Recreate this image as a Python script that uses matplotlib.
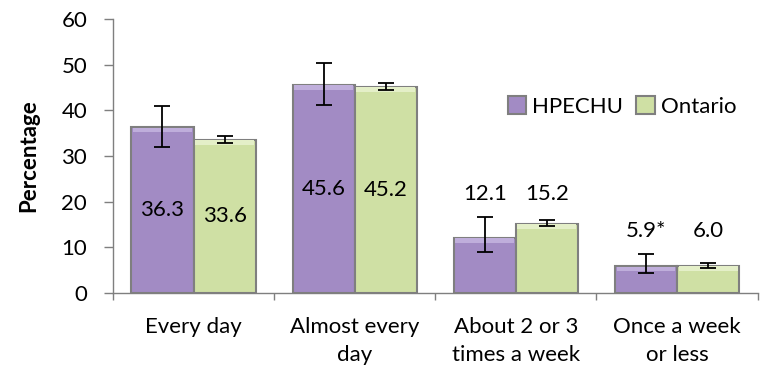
import matplotlib
matplotlib.use("Agg")
import matplotlib.pyplot as plt
import numpy as np

categories = ["Every day", "Almost every\nday", "About 2 or 3\ntimes a week", "Once a week\nor less"]
hpechu = [36.3, 45.6, 12.1, 5.9]
ontario = [33.6, 45.2, 15.2, 6.0]
hpechu_lo = [32.0, 41.2, 8.9, 4.3]
hpechu_hi = [41.0, 50.3, 16.7, 8.5]
ontario_lo = [32.8, 44.5, 14.7, 5.5]
ontario_hi = [34.4, 45.9, 16.0, 6.5]
hpechu_labels = ["36.3", "45.6", "12.1", "5.9*"]
ontario_labels = ["33.6", "45.2", "15.2", "6.0"]
labels_inside = [True, True, False, False]

plt.rcParams['font.family'] = ['Lato', 'DejaVu Sans']

fig = plt.figure(figsize=(7.63, 3.73), dpi=100)
ax = fig.add_axes([0.148, 0.2145, 0.845, 0.7345])

purple = "#A28BC4"
green = "#CFE0A4"
edge = "#7F7F7F"
w = 0.385
x = np.arange(len(categories))

hp = np.array(hpechu); on = np.array(ontario)
b1 = ax.bar(x - w/2, hp, w, color=purple, edgecolor=edge, linewidth=1.5, label="HPECHU", zorder=2)
b2 = ax.bar(x + w/2, on, w, color=green, edgecolor=edge, linewidth=1.5, label="Ontario", zorder=2)

# bevel highlight on top
for bars, light in ((b1, "#BFAEDB"), (b2, "#E4EFC8")):
    for r in bars:
        h = r.get_height()
        bh = min(1.0, h * 0.2)
        ax.add_patch(plt.Rectangle((r.get_x() + 0.01, h - bh - 0.15), r.get_width() - 0.02, bh,
                                   color=light, zorder=2.5, linewidth=0))

ax.errorbar(x - w/2, hp, yerr=[hp - np.array(hpechu_lo), np.array(hpechu_hi) - hp],
            fmt="none", ecolor="black", elinewidth=1.3, capsize=6, capthick=1.3, zorder=3)
ax.errorbar(x + w/2, on, yerr=[on - np.array(ontario_lo), np.array(ontario_hi) - on],
            fmt="none", ecolor="black", elinewidth=1.3, capsize=6, capthick=1.3, zorder=3)

fs = 16
for i in range(len(categories)):
    if labels_inside[i]:
        y1, y2 = hp[i] / 2, on[i] / 2
    else:
        y1 = y2 = max(hpechu_hi[i], ontario_hi[i]) + 5
    ax.text(x[i] - w/2, y1, hpechu_labels[i], ha="center", va="center", fontsize=fs, zorder=4)
    ax.text(x[i] + w/2, y2, ontario_labels[i], ha="center", va="center", fontsize=fs, zorder=4)

ax.set_xlim(-0.5, len(categories) - 0.5)
ax.set_ylim(0, 60)
ax.set_yticks(range(0, 61, 10))
ax.set_xticks(x)
ax.set_xticklabels(categories, fontsize=fs, linespacing=1.5)
ax.set_xticks(np.arange(-0.5, len(categories), 1), minor=True)
ax.tick_params(axis="x", which="major", length=0, pad=17)
ax.tick_params(axis="x", which="minor", length=5, color=edge, width=1)
ax.tick_params(axis="y", labelsize=fs, length=6.5, color=edge, width=1, pad=12)
for s in ("top", "right"):
    ax.spines[s].set_visible(False)
for s in ("left", "bottom"):
    ax.spines[s].set_color(edge)
    ax.spines[s].set_linewidth(1)
ax.set_ylabel("Percentage", fontsize=fs, fontweight="bold", labelpad=16)

leg = ax.legend(loc="center left", bbox_to_anchor=(0.612, 0.68), ncol=2, frameon=False,
                fontsize=fs, handlelength=0.85, handleheight=0.85, handletextpad=0.25,
                columnspacing=0.6, borderaxespad=0, borderpad=0)

fig.savefig("out.png", dpi=100)
